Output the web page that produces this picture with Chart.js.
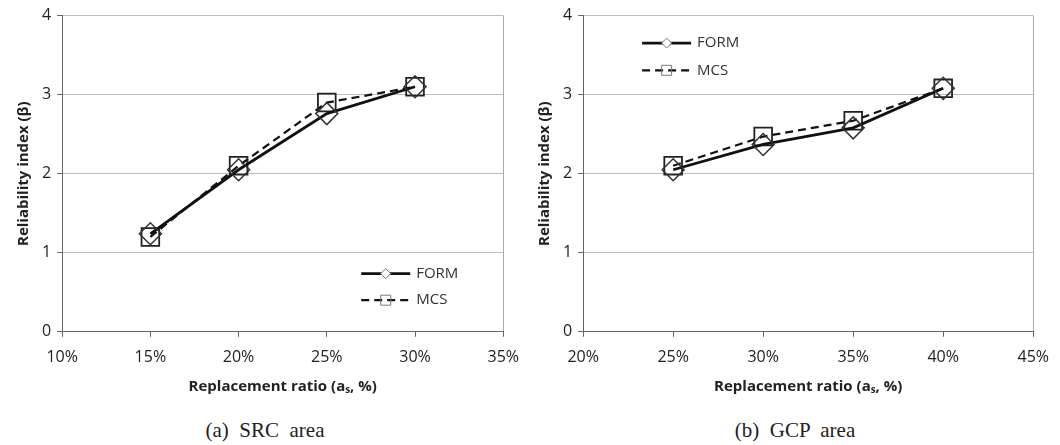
<!DOCTYPE html>
<html>
<head>
<meta charset="utf-8">
<script src="https://cdn.jsdelivr.net/npm/chart.js@4/dist/chart.umd.min.js"></script>
<style>
  body { margin: 0; background: #fff; }
  .wrap { position: absolute; top: 0; width: 530px; height: 400px; }
  .cap { position: absolute; top: 418px; width: 530px; text-align: center;
         font-family: "Liberation Serif", serif; font-size: 21px; color: #222; white-space: pre; }
</style>
</head>
<body>
<div class="wrap" style="left:0"><canvas id="chartA"></canvas></div>
<div class="wrap" style="left:530px"><canvas id="chartB"></canvas></div>
<div class="cap" style="left:0">(a)  SRC  area</div>
<div class="cap" style="left:530px">(b)  GCP  area</div>
<script>
// (a) SRC area
const ratioA = [15, 20, 25, 30];
const formA = [1.24, 2.05, 2.76, 3.1];
const mcsA = [1.2, 2.1, 2.9, 3.1];
const xRangeA = [10, 35];

// (b) GCP area
const ratioB = [25, 30, 35, 40];
const formB = [2.05, 2.37, 2.58, 3.08];
const mcsB = [2.1, 2.47, 2.67, 3.08];
const xRangeB = [20, 45];

const seriesNames = ['FORM', 'MCS'];
const yTitle = 'Reliability index (β)';
const xTitle = 'Replacement ratio (aₛ, %)';

const FONT = '"Open Sans", sans-serif';

// legend drawn inside the plot area: line sample + small marker + label
const legendInside = {
  id: 'legendInside',
  afterDatasetsDraw(chart, args, opts) {
    const ctx = chart.ctx, a = chart.chartArea;
    const x0 = a.left + opts.fx * (a.right - a.left);
    const len = 49;
    chart.data.datasets.forEach((ds, i) => {
      const y = a.top + opts.fy[i] * (a.bottom - a.top);
      ctx.save();
      ctx.strokeStyle = ds.borderColor;
      ctx.lineWidth = ds.borderWidth;
      ctx.setLineDash(ds.borderDash || []);
      ctx.beginPath(); ctx.moveTo(x0, y); ctx.lineTo(x0 + len, y); ctx.stroke();
      ctx.setLineDash([]);
      ctx.lineWidth = 1;
      ctx.strokeStyle = '#777';
      const cx = x0 + len / 2, s = 5;
      ctx.beginPath();
      if (ds.pointStyle === 'rectRot') {
        ctx.moveTo(cx - s, y); ctx.lineTo(cx, y - s); ctx.lineTo(cx + s, y); ctx.lineTo(cx, y + s); ctx.closePath();
        ctx.fillStyle = '#fff'; ctx.fill();
      } else {
        ctx.rect(cx - s, y - s, 2 * s, 2 * s);
      }
      ctx.stroke();
      ctx.fillStyle = '#333';
      ctx.font = '15px ' + FONT;
      ctx.textBaseline = 'middle';
      ctx.fillText(seriesNames[i], x0 + len + 6, y);
      ctx.restore();
    });
  }
};

function makeChart(id, xs, form, mcs, xRange, legendPos, padLeft) {
  const pts = (vals) => xs.map((x, i) => ({ x: x, y: vals[i] }));
  return new Chart(document.getElementById(id), {
    type: 'scatter',
    data: {
      datasets: [
        {
          label: seriesNames[0],
          data: pts(form),
          showLine: true,
          borderColor: '#111',
          borderWidth: 2.8,
          pointStyle: 'rectRot',
          pointRadius: 11,
          pointBorderWidth: 1.5,
          pointBorderColor: '#333',
          pointBackgroundColor: 'rgba(255,255,255,0)',
          order: 1
        },
        {
          label: seriesNames[1],
          data: pts(mcs),
          showLine: true,
          borderColor: '#111',
          borderWidth: 2.2,
          borderDash: [8, 5],
          pointStyle: 'rect',
          pointRadius: 12.5,
          pointBorderWidth: 1.8,
          pointBorderColor: '#222',
          pointBackgroundColor: 'rgba(255,255,255,0)',
          order: 2
        }
      ]
    },
    options: {
      responsive: true,
      maintainAspectRatio: false,
      animation: false,
      layout: { padding: { top: 8, right: 17, left: padLeft, bottom: 0 } },
      plugins: {
        legend: { display: false },
        tooltip: { enabled: false },
        legendInside: legendPos
      },
      scales: {
        x: {
          type: 'linear',
          min: xRange[0],
          max: xRange[1],
          ticks: {
            stepSize: 5,
            color: '#222',
            font: { family: FONT, size: 16 },
            padding: 11,
            callback: (v) => v + '%'
          },
          grid: {
            color: (c) => (c.tick && c.tick.value === xRange[1]) ? '#aaa' : 'rgba(0,0,0,0)',
            tickColor: '#666',
            tickLength: 5
          },
          border: { color: '#666', width: 1 },
          title: {
            display: true,
            text: xTitle,
            color: '#222',
            font: { family: FONT, size: 15, weight: 'bold' },
            padding: { top: 0 }
          }
        },
        y: {
          min: 0,
          max: 4,
          ticks: {
            stepSize: 1,
            color: '#222',
            font: { family: FONT, size: 16 },
            padding: 6
          },
          grid: { color: '#bdbdbd', tickColor: '#666', tickLength: 5 },
          border: { color: '#666', width: 1 },
          title: {
            display: true,
            text: yTitle,
            color: '#222',
            font: { family: FONT, size: 15, weight: 'bold' },
            padding: { bottom: 3 }
          }
        }
      }
    },
    plugins: [legendInside]
  });
}

makeChart('chartA', ratioA, formA, mcsA, xRangeA, { fx: 0.678, fy: [0.816, 0.9] }, 11);
makeChart('chartB', ratioB, formB, mcsB, xRangeB, { fx: 0.131, fy: [0.087, 0.173] }, 2);
</script>
</body>
</html>
